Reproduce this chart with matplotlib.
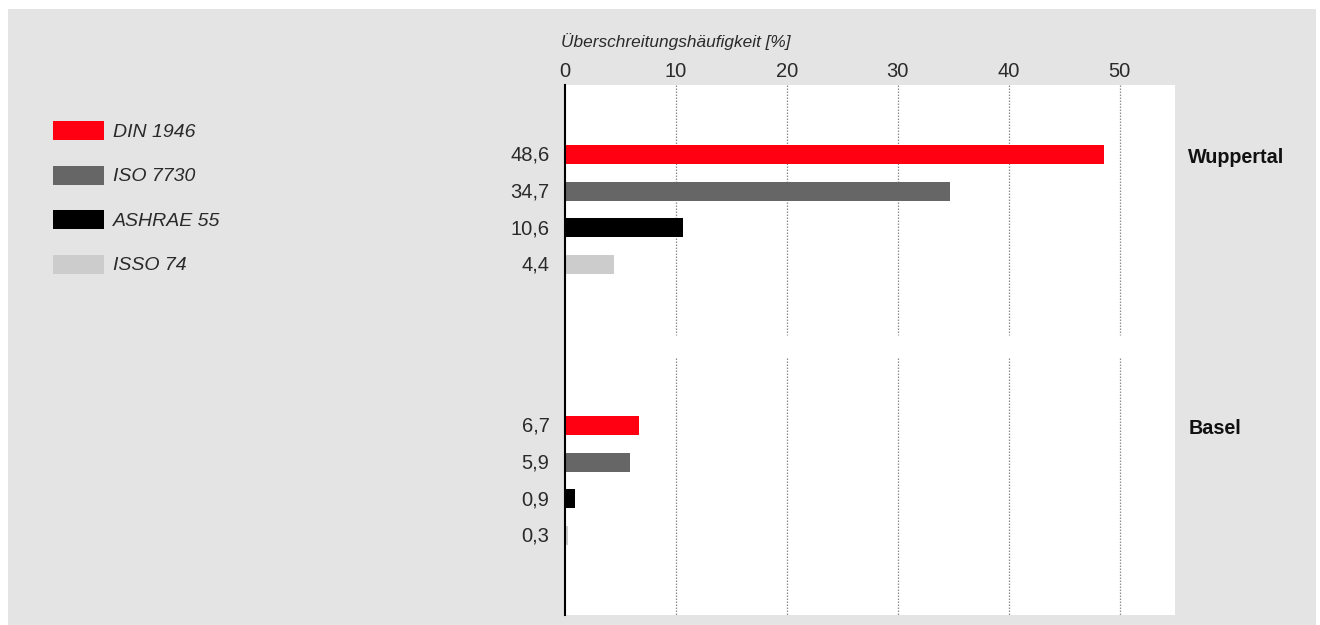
import matplotlib

matplotlib.use("Agg")
import matplotlib.pyplot as plt
from matplotlib.patches import Rectangle

# Exceedance frequency per comfort standard and site
standards = ["DIN 1946", "ISO 7730", "ASHRAE 55", "ISSO 74"]
colors = ["#ff0012", "#666666", "#000000", "#cccccc"]
cities = ["Wuppertal", "Basel"]
wuppertal = [48.6, 34.7, 10.6, 4.4]
basel = [6.7, 5.9, 0.9, 0.3]
x_ticks = [0, 10, 20, 30, 40, 50]
x_title = "Überschreitungshäufigkeit [%]"

BG = "#e4e4e4"
TXT = "#2a2a2a"
FONT = "Liberation Sans"

W, H = 1320, 625
fig = plt.figure(figsize=(W / 100, H / 100), dpi=100)
fig.patch.set_facecolor("white")

# gray panel behind everything
fig.patches.append(Rectangle((8 / W, 0), (1316 - 8) / W, (H - 9) / H,
                             transform=fig.transFigure, facecolor=BG,
                             edgecolor="none", zorder=-10))

# plot area in pixel box
left, right, top, bottom = 565, 1175, 85, 615
ax = fig.add_axes([left / W, 1 - bottom / H, (right - left) / W, (bottom - top) / H])
ax.set_facecolor("white")
ax.set_zorder(1)

# vertical layout in bar-slot units (first bar of first group at 0)
slot = 36.7
y_top = -(154.5 - top) / slot
y_bot = (bottom - 154.5) / slot
group_offset = (425.5 - 154.5) / slot
gap = ((335 - 154.5) / slot, (358 - 154.5) / slot)
bar_h = 19 / slot

groups = [wuppertal, basel]
for g, values in enumerate(groups):
    base = g * group_offset
    ys = [base + i for i in range(len(values))]
    ax.barh(ys, values, height=bar_h, color=colors, zorder=3)
    for y, v in zip(ys, values):
        ax.text(-1.4, y + 0.02, f"{v:.1f}".replace(".", ","), ha="right", va="center",
                fontsize=14.5, color=TXT, family=FONT, clip_on=False)
    ax.text(56.2, base + 0.07, cities[g], ha="left", va="center", fontsize=14.2,
            fontweight="bold", color="#111111", family=FONT, clip_on=False)

# dotted grid, interrupted between the two groups
for xt in x_ticks[1:]:
    ax.vlines(xt, y_top, gap[0], colors="#8c8c8c", linestyles=(0, (1.2, 1.2)),
              linewidth=0.9, zorder=1)
    ax.vlines(xt, gap[1], y_bot, colors="#8c8c8c", linestyles=(0, (1.2, 1.2)),
              linewidth=0.9, zorder=1)

ax.set_xlim(0, 55)
ax.set_ylim(y_bot, y_top)
ax.xaxis.tick_top()
ax.set_xticks(x_ticks)
ax.set_xticklabels([str(t) for t in x_ticks], fontsize=14.5, color=TXT, family=FONT)
ax.tick_params(axis="x", length=0, pad=3)
ax.set_yticks([])
for side in ["top", "right", "bottom"]:
    ax.spines[side].set_visible(False)
ax.spines["left"].set_color("black")
ax.spines["left"].set_linewidth(1.5)
ax.spines["left"].set_zorder(5)

fig.text(561 / W, 1 - 42 / H, x_title, ha="left", va="center", fontsize=12.4,
         style="italic", color=TXT, family=FONT)

# legend
for i, (name, c) in enumerate(zip(standards, colors)):
    yc = 130.5 + i * 44.5
    fig.patches.append(Rectangle((53 / W, 1 - (yc + 9.5) / H), 51 / W, 19 / H,
                                 transform=fig.transFigure, facecolor=c,
                                 edgecolor="none", zorder=2))
    fig.text(113 / W, 1 - (yc + 1.5) / H, name, ha="left", va="center", fontsize=14,
             style="italic", color=TXT, family=FONT)

fig.savefig("out.png", dpi=100, facecolor=fig.get_facecolor())
